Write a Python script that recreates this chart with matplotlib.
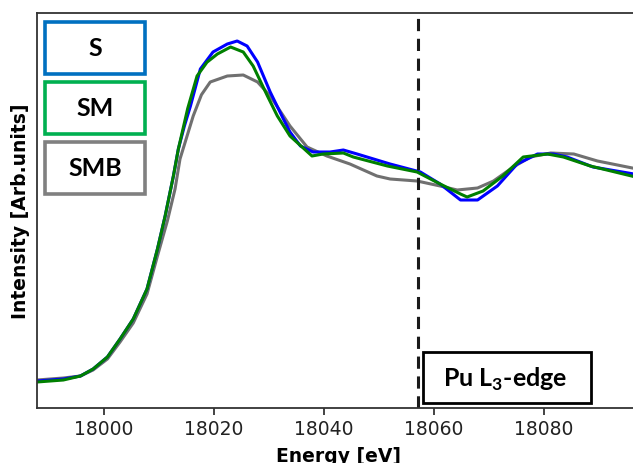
import matplotlib
matplotlib.use("Agg")
import matplotlib.pyplot as plt
from matplotlib.patches import Rectangle

plt.rcParams['mathtext.fontset'] = 'custom'
plt.rcParams['mathtext.rm'] = 'Lato:bold'
plt.rcParams['mathtext.bf'] = 'Lato:bold'

# S
e_s = [17987.9, 17992.7, 17995.8, 17998.1, 18000.7, 18003.0, 18005.4, 18007.9, 18009.8,
       18011.2, 18012.7, 18013.6, 18014.7, 18015.8, 18017.6, 18019.9, 18022.5, 18024.3, 18026.1,
       18028.0, 18030.3, 18032.7, 18033.9, 18035.8, 18038.1, 18041.2, 18043.6, 18046.1,
       18052.1, 18057.6, 18061.2, 18064.9, 18068.0, 18071.6, 18075.2, 18078.9, 18081.8,
       18084.3, 18089.0, 18097.5]
i_s = [0.000, 0.008, 0.020, 0.048, 0.096, 0.168, 0.248, 0.368, 0.528,
       0.660, 0.820, 0.928, 1.020, 1.100, 1.248, 1.316, 1.348, 1.360, 1.340,
       1.276, 1.156, 1.048, 0.996, 0.940, 0.916, 0.916, 0.924, 0.908,
       0.868, 0.836, 0.788, 0.724, 0.724, 0.780, 0.868, 0.908, 0.908,
       0.896, 0.856, 0.824]

# SM
e_sm = [17987.9, 17992.7, 17995.8, 17998.1, 18000.7, 18003.0, 18005.4, 18007.9, 18009.8,
        18011.2, 18012.7, 18013.6, 18015.3, 18017.0, 18018.8, 18020.7, 18023.1, 18025.4, 18027.2, 18029.8,
        18031.6, 18033.9, 18034.5, 18037.9, 18039.9, 18043.6, 18045.4, 18051.6, 18057.0,
        18061.2, 18064.9, 18066.1, 18069.0, 18072.6, 18076.3, 18080.7, 18083.6, 18088.5,
        18097.5]
i_sm = [-0.004, 0.004, 0.020, 0.048, 0.096, 0.168, 0.248, 0.368, 0.528,
        0.660, 0.820, 0.928, 1.090, 1.220, 1.275, 1.308, 1.336, 1.316, 1.260, 1.140,
        1.060, 0.980, 0.968, 0.900, 0.908, 0.912, 0.896, 0.860, 0.836,
        0.788, 0.748, 0.736, 0.760, 0.820, 0.896, 0.908, 0.896, 0.860,
        0.812]

# SMB
e_smb = [17987.9, 17992.7, 17995.8, 17998.1, 18000.7, 18003.0, 18005.4, 18007.9, 18009.8,
         18011.6, 18013.0, 18013.9, 18016.3, 18017.8, 18019.4, 18022.5, 18025.4, 18028.0, 18030.3,
         18032.7, 18033.9, 18037.0, 18040.6, 18044.8, 18049.7, 18052.1, 18057.0, 18061.2,
         18064.3, 18068.0, 18070.9, 18074.5, 18077.6, 18081.3, 18085.5, 18089.8, 18097.5]
i_smb = [0.004, 0.012, 0.020, 0.044, 0.088, 0.156, 0.232, 0.348, 0.500,
         0.640, 0.768, 0.888, 1.060, 1.145, 1.196, 1.220, 1.224, 1.196, 1.140,
         1.060, 1.020, 0.936, 0.900, 0.868, 0.820, 0.808, 0.800, 0.780,
         0.764, 0.772, 0.800, 0.856, 0.896, 0.912, 0.908, 0.880, 0.846]

edge_energy = 18057.1
labels = ['S', 'SM', 'SMB']
box_colors = ['#0070C0', '#00B050', '#808080']

fig = plt.figure(figsize=(6.33, 4.64), dpi=100)
ax = fig.add_axes([37 / 633, 55 / 464, 603 / 633, 395 / 464])

ax.plot(e_smb, i_smb, color='#707070', lw=2.2)
ax.plot(e_s, i_s, color='#0000FF', lw=2.2)
ax.plot(e_sm, i_sm, color='#008000', lw=2.2)
ax.axvline(edge_energy, color='#1a1a1a', lw=2.2, ls=(0, (4, 2.5)))

ax.set_xlim(17987.9, 17987.9 + 603 / 5.5)
ax.set_ylim(-0.108, 1.472)
ax.set_xticks([18000, 18020, 18040, 18060, 18080])
ax.set_yticks([])
ax.tick_params(axis='x', labelsize=13.5, length=5, width=1.2, colors='#222222', pad=3)
for sp in ['top', 'left', 'bottom']:
    ax.spines[sp].set_linewidth(1.3)
    ax.spines[sp].set_color('#333333')
ax.spines['right'].set_visible(False)

ax.set_xlabel('Energy [eV]', fontsize=13.5, fontweight='bold', labelpad=6)
ax.set_ylabel('Intensity [Arb.units]', fontsize=13.5, fontweight='bold', labelpad=5)

# legend boxes
box_h = 52 / 395
tops = [23, 83, 143]
for lab, col, top in zip(labels, box_colors, tops):
    y0 = (409 - top) / 395 - box_h
    ax.add_patch(Rectangle((8 / 603, y0), 100 / 603, box_h, transform=ax.transAxes,
                           fill=False, ec=col, lw=2.6, clip_on=False, zorder=5))
    ax.text(58 / 603, y0 + box_h / 2, lab, transform=ax.transAxes, ha='center', va='center',
            fontsize=18, fontweight='bold', family='Lato', zorder=6)

# edge label
ax.add_patch(Rectangle((386 / 603, 5 / 395), 168 / 603, 51 / 395, transform=ax.transAxes,
                       fill=False, ec='black', lw=2.0, zorder=5))
ax.text(468 / 603, 30 / 395, r'Pu L$_{3}$-edge', transform=ax.transAxes, ha='center',
        va='center', fontsize=18, fontweight='bold', family='Lato', zorder=6)

fig.savefig('out.png', dpi=100)
